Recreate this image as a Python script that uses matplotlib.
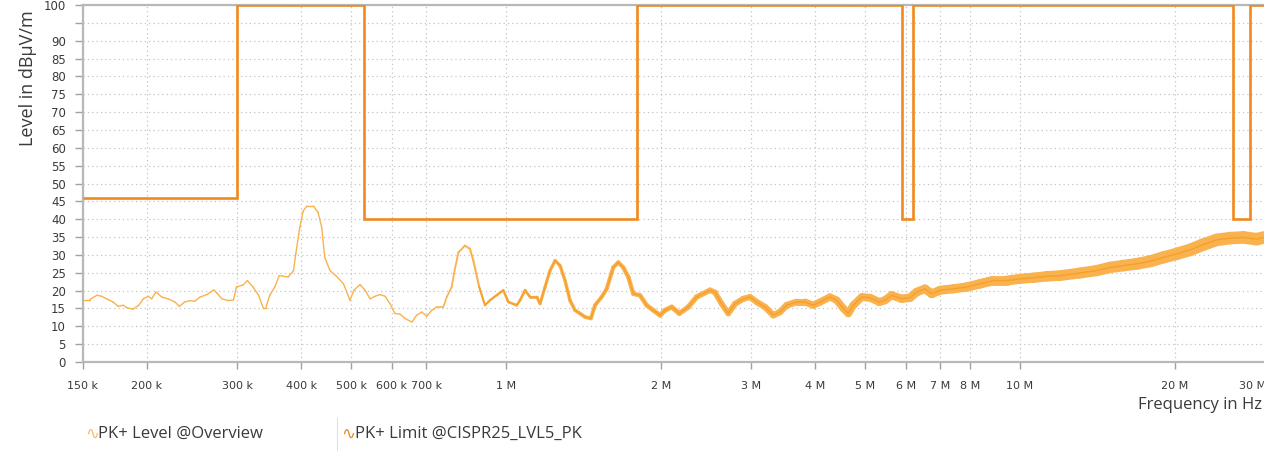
import numpy as np
import matplotlib
matplotlib.use("Agg")
import matplotlib.pyplot as plt
from matplotlib import font_manager
from matplotlib.collections import LineCollection
from matplotlib.lines import Line2D

# PK+ level scan (frequency in MHz, level in dBuV/m)
freq_mhz = [0.150, 0.155, 0.160, 0.1635, 0.167, 0.172, 0.176, 0.180, 0.183, 0.188,
            0.193, 0.197, 0.2015, 0.2045, 0.2085, 0.214, 0.220, 0.227, 0.2315, 0.237,
            0.243, 0.248, 0.254, 0.262, 0.270, 0.274, 0.280, 0.288, 0.295, 0.299,
            0.308, 0.314, 0.322, 0.330, 0.337, 0.341, 0.347, 0.355, 0.362, 0.377,
            0.386, 0.390, 0.397, 0.403, 0.410, 0.422, 0.431, 0.438, 0.444, 0.4545,
            0.468, 0.483, 0.497, 0.506, 0.520, 0.532, 0.544, 0.556, 0.569, 0.582,
            0.595, 0.608, 0.622, 0.636, 0.656, 0.670, 0.686, 0.701, 0.717, 0.733,
            0.755, 0.767, 0.784, 0.792, 0.808, 0.832, 0.851, 0.864, 0.887, 0.910,
            0.931, 0.959, 0.988, 1.011, 1.049, 1.065, 1.089, 1.114, 1.148, 1.165,
            1.191, 1.218, 1.246, 1.274, 1.303, 1.332, 1.362, 1.393, 1.425, 1.463,
            1.490, 1.535, 1.570, 1.617, 1.654, 1.691, 1.730, 1.769, 1.822, 1.878,
            1.934, 1.994, 2.039, 2.101, 2.174, 2.263, 2.349, 2.494, 2.550, 2.628,
            2.707, 2.790, 2.895, 2.984, 3.075, 3.192, 3.312, 3.413, 3.516, 3.678,
            3.818, 3.962, 4.083, 4.270, 4.401, 4.533, 4.635, 4.740, 4.922, 5.108,
            5.325, 5.462, 5.628, 5.886, 6.110, 6.297, 6.535, 6.734, 6.990, 7.418,
            7.878, 8.361, 8.874, 9.423, 10.00, 10.62, 11.27, 11.96, 13.05, 14.10,
            14.97, 15.89, 16.87, 17.91, 19.01, 20.19, 21.42, 22.74, 24.14, 25.62,
            27.20, 28.88, 29.8]
level_db = [17.5, 17.5, 18.7, 18.4, 17.7, 16.8, 15.6, 15.9, 15.2, 14.8,
            15.9, 17.7, 18.4, 17.7, 19.6, 18.2, 17.7, 16.8, 15.6, 16.8,
            17.2, 17.0, 18.2, 18.9, 20.2, 19.3, 17.7, 17.2, 17.4, 21.0,
            21.6, 22.8, 21.0, 18.7, 15.2, 15.2, 18.7, 21.0, 24.2, 23.8,
            25.6, 30.3, 37.7, 42.3, 43.7, 43.7, 41.9, 37.7, 29.3, 25.6,
            24.0, 21.9, 17.3, 20.1, 21.7, 20.1, 17.7, 18.4, 18.9, 18.4,
            16.3, 13.6, 13.4, 12.2, 11.2, 13.1, 14.0, 12.8, 14.5, 15.4,
            15.4, 18.2, 21.0, 24.7, 30.7, 32.6, 31.7, 28.4, 21.0, 15.9,
            17.3, 18.7, 20.1, 16.8, 15.9, 17.3, 20.1, 18.2, 18.2, 16.3,
            21.0, 25.6, 28.4, 27.0, 22.8, 17.3, 14.5, 13.6, 12.6, 12.2,
            15.9, 18.2, 20.5, 26.5, 27.9, 26.5, 23.8, 19.1, 18.7, 15.9,
            14.5, 13.1, 14.5, 15.4, 13.6, 15.4, 18.2, 20.1, 19.5, 16.3,
            13.6, 16.3, 17.7, 18.2, 16.8, 15.4, 13.1, 14.0, 15.9, 16.8,
            16.8, 15.9, 16.8, 18.2, 17.3, 15.0, 13.6, 15.9, 18.2, 18.0,
            16.8, 17.3, 18.7, 17.7, 18.0, 19.6, 20.5, 19.1, 20.1, 20.5,
            21.0, 21.9, 22.8, 22.8, 23.3, 23.6, 24.0, 24.2, 24.9, 25.6,
            26.5, 27.0, 27.5, 28.2, 29.3, 30.3, 31.4, 32.9, 34.2, 34.7,
            34.9, 34.4, 34.9]

# CISPR 25 class 5 peak limit, band edges in MHz; 100 = no limit in that band
limit_edges = [0.15, 0.30, 0.53, 1.8, 5.9, 6.2, 26.0, 28.0, 30.5]
limit_db = [46, 100, 40, 100, 40, 100, 40, 100]

xtick_mhz = [0.15, 0.2, 0.3, 0.4, 0.5, 0.6, 0.7, 1, 2, 3, 4, 5, 6, 7, 8, 10, 20, 30]
xtick_labels = ['150 k', '200 k', '300 k', '400 k', '500 k', '600 k', '700 k',
                '1 M', '2 M', '3 M', '4 M', '5 M', '6 M', '7 M', '8 M',
                '10 M', '20 M', '30 M']
ytick_db = list(range(0, 105, 5))
ytick_labels = ['' if v == 95 else str(v) for v in ytick_db]

level_color = '#f5a02a'
band_color = '#f9b24e'
limit_color = '#f08a1d'
text_color = '#3a3a3a'

installed = {f.name for f in font_manager.fontManager.ttflist}
tick_font = 'Liberation Sans Narrow' if 'Liberation Sans Narrow' in installed else 'DejaVu Sans'
label_font = ['Open Sans', 'DejaVu Sans']

fig = plt.figure(figsize=(12.64, 4.51), dpi=100, facecolor='w')
ax = fig.add_axes([0.06527, 0.19734, 0.93861, 0.79157])
ax.set_xscale('log')
ax.set_xlim(0.15, 30.5)
ax.set_ylim(0, 100)

# ticks and dotted grid; the 30 M label sits at the right edge, so it is
# written separately, right-aligned, to stay on the canvas
ax.set_xticks(xtick_mhz)
ax.set_xticklabels(xtick_labels[:-1] + [''], fontfamily=tick_font, fontsize=8,
                   color=text_color)
ax.annotate(xtick_labels[-1], xy=(xtick_mhz[-1], 0), xycoords=('data', 'axes fraction'),
            xytext=(1, -24), textcoords='offset pixels', ha='right', va='center',
            fontfamily=tick_font, fontsize=8, color=text_color, annotation_clip=False)
ax.xaxis.set_minor_locator(matplotlib.ticker.NullLocator())
ax.set_yticks(ytick_db)
ax.set_yticklabels(ytick_labels, fontfamily=tick_font, fontsize=8.5, color=text_color)
ax.grid(True, which='major', color='#c4c4c4', linestyle=(0, (1, 2.5)), linewidth=0.9)
ax.tick_params(axis='x', direction='out', length=5, width=1, color='#a0a0a0', pad=9)
ax.tick_params(axis='y', direction='out', length=6, width=1, color='#a0a0a0', pad=6)
for s in ax.spines.values():
    s.set_color('#b8b8b8')
    s.set_linewidth(1.6)

# level trace: noise band widening towards high frequencies
f = np.array(freq_mhz)
y = np.array(level_db)
pts = np.column_stack([f, y]).reshape(-1, 1, 2)
segs = np.concatenate([pts[:-1], pts[1:]], axis=1)
fmid = np.sqrt(f[:-1] * f[1:])
widths = np.clip(1.0 + 5.4 * (np.log10(fmid) + 0.155), 1.0, 9.0)
band = LineCollection(segs, linewidths=widths, colors=band_color, capstyle='round',
                      joinstyle='round', zorder=3)
ax.add_collection(band)
# denser centre of the band, only where the trace gets noisy
noisy = f >= 0.88
ax.plot(f[noisy], y[noisy], color=level_color, linewidth=1.0, zorder=3.5)

# limit line
ax.stairs(limit_db, limit_edges, baseline=None, color=limit_color, linewidth=1.9, zorder=4)

# axis titles
fig.text(28 / 1264, 1 - 78 / 451, 'Level in dBµV/m', rotation=90, ha='center', va='center',
         fontsize=13, family=label_font, color=text_color)
fig.text(1262 / 1264, 1 - 405 / 451, 'Frequency in Hz', ha='right', va='center',
         fontsize=12, family=label_font, color=text_color)

# legend row
fig.text(85 / 1264, 1 - 434 / 451, '∿', ha='left', va='center', fontsize=12,
         family='DejaVu Sans', color='#fbbd66')
fig.text(98 / 1264, 1 - 434 / 451, 'PK+ Level @Overview', ha='left', va='center',
         fontsize=12, family=label_font, color=text_color)
fig.add_artist(Line2D([337 / 1264, 337 / 1264], [0, 1 - 418 / 451],
                      transform=fig.transFigure, color='#e0e0e0', linewidth=0.8))
fig.text(341 / 1264, 1 - 434 / 451, '∿', ha='left', va='center', fontsize=12,
         family='DejaVu Sans', color=limit_color)
fig.text(355 / 1264, 1 - 434 / 451, 'PK+ Limit @CISPR25_LVL5_PK', ha='left', va='center',
         fontsize=12, family=label_font, color=text_color)

fig.savefig('out.png', dpi=100, facecolor='w')
